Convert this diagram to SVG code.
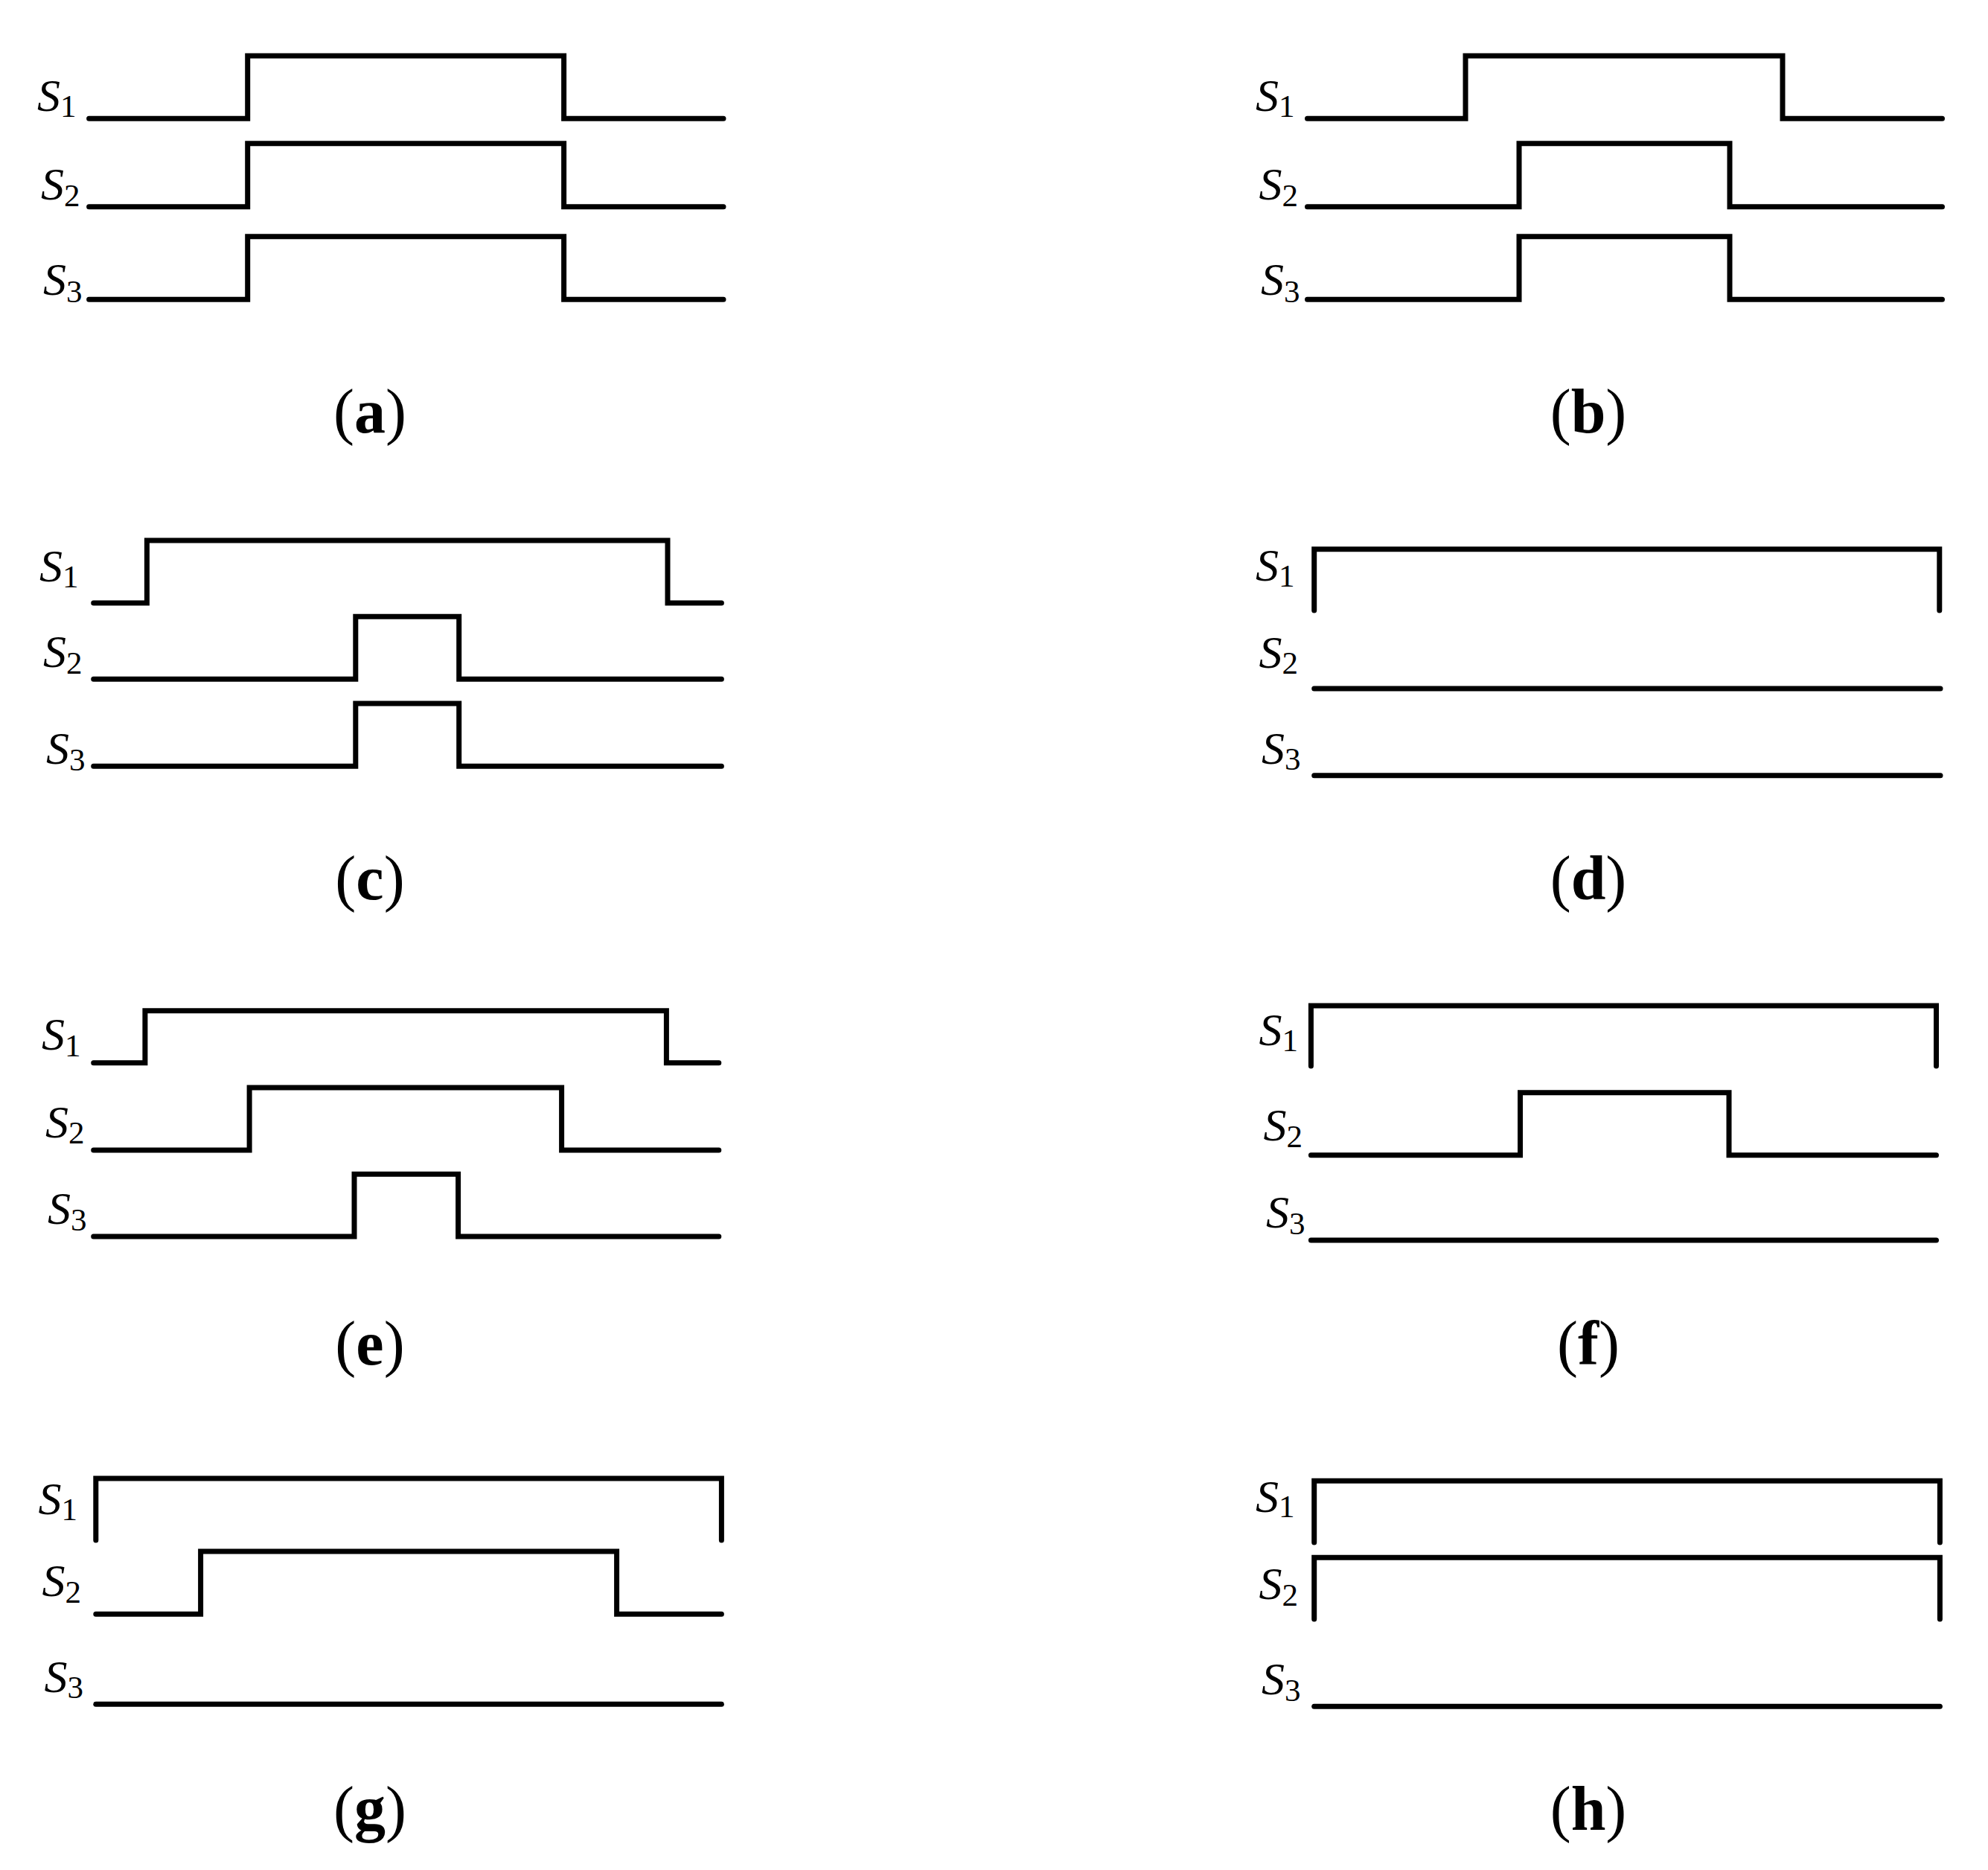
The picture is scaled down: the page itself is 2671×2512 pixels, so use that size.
<svg xmlns="http://www.w3.org/2000/svg" width="2671" height="2512" viewBox="0 0 2671 2512">
<style>
.w{fill:none;stroke:#000;stroke-width:7;stroke-linecap:round;stroke-linejoin:miter}
.lab{font-family:"Liberation Serif","Times New Roman",serif;font-size:62px;font-style:italic;fill:#000}
.sub{font-style:normal;font-size:43px}
.cap{font-family:"Liberation Serif","Times New Roman",serif;font-size:84px;fill:#000;text-anchor:middle}
.b{font-weight:bold}
</style>
<rect width="2671" height="2512" fill="#fff"/>
<g id="panel-a">
<path class="w" d="M119.6,159.3 H332.7 V75 H757.6 V159.3 H972"/>
<path class="w" d="M119.6,277.7 H332.7 V192.7 H757.6 V277.7 H972"/>
<path class="w" d="M119.6,402.3 H332.7 V317.7 H757.6 V402.3 H972"/>
<text class="lab" x="50" y="149">S<tspan class="sub" dy="8">1</tspan></text>
<text class="lab" x="55" y="268">S<tspan class="sub" dy="9">2</tspan></text>
<text class="lab" x="58" y="396">S<tspan class="sub" dy="10">3</tspan></text>
<text class="cap" x="497" y="581">(<tspan class="b">a</tspan>)</text>
</g>
<g id="panel-b">
<path class="w" d="M1756.5,159.3 H1969 V75 H2395 V159.3 H2609.5"/>
<path class="w" d="M1756.5,277.7 H2041 V192.7 H2324 V277.7 H2609.5"/>
<path class="w" d="M1756.5,402.3 H2041 V317.7 H2324 V402.3 H2609.5"/>
<text class="lab" x="1687" y="149">S<tspan class="sub" dy="8">1</tspan></text>
<text class="lab" x="1691.5" y="268">S<tspan class="sub" dy="9">2</tspan></text>
<text class="lab" x="1694" y="396">S<tspan class="sub" dy="10">3</tspan></text>
<text class="cap" x="2134" y="581">(<tspan class="b">b</tspan>)</text>
</g>
<g id="panel-c">
<path class="w" d="M125.7,810 H197.4 V726 H897 V810 H969.4"/>
<path class="w" d="M125.7,912.3 H477.8 V828.3 H616.7 V912.3 H969.4"/>
<path class="w" d="M125.7,1029.3 H477.8 V945 H616.7 V1029.3 H969.4"/>
<text class="lab" x="53" y="781">S<tspan class="sub" dy="8">1</tspan></text>
<text class="lab" x="58" y="896">S<tspan class="sub" dy="9">2</tspan></text>
<text class="lab" x="62" y="1026">S<tspan class="sub" dy="9">3</tspan></text>
<text class="cap" x="497" y="1208">(<tspan class="b">c</tspan>)</text>
</g>
<g id="panel-d">
<path class="w" d="M1765.7,820 V737.7 H2605.8 V820"/>
<path class="w" d="M1765.7,925 H2607"/>
<path class="w" d="M1765.7,1041.7 H2607"/>
<text class="lab" x="1687" y="780">S<tspan class="sub" dy="8">1</tspan></text>
<text class="lab" x="1691.5" y="897">S<tspan class="sub" dy="8">2</tspan></text>
<text class="lab" x="1695" y="1026">S<tspan class="sub" dy="8">3</tspan></text>
<text class="cap" x="2134" y="1208">(<tspan class="b">d</tspan>)</text>
</g>
<g id="panel-e">
<path class="w" d="M125.7,1427.7 H194.9 V1357.7 H895.4 V1427.7 H965.8"/>
<path class="w" d="M125.7,1545 H335.1 V1461 H754.6 V1545 H965.8"/>
<path class="w" d="M125.7,1661 H476 V1577.3 H615.6 V1661 H965.8"/>
<text class="lab" x="56" y="1410">S<tspan class="sub" dy="9">1</tspan></text>
<text class="lab" x="61" y="1528">S<tspan class="sub" dy="8">2</tspan></text>
<text class="lab" x="64" y="1644">S<tspan class="sub" dy="9">3</tspan></text>
<text class="cap" x="497" y="1833">(<tspan class="b">e</tspan>)</text>
</g>
<g id="panel-f">
<path class="w" d="M1761.4,1432 V1351 H2601.5 V1432"/>
<path class="w" d="M1761.4,1551.7 H2042.5 V1467.7 H2323 V1551.7 H2601.5"/>
<path class="w" d="M1761.4,1666 H2601.5"/>
<text class="lab" x="1691.5" y="1404">S<tspan class="sub" dy="8">1</tspan></text>
<text class="lab" x="1697.6" y="1532">S<tspan class="sub" dy="9">2</tspan></text>
<text class="lab" x="1701" y="1649">S<tspan class="sub" dy="9">3</tspan></text>
<text class="cap" x="2134" y="1833">(<tspan class="b">f</tspan>)</text>
</g>
<g id="panel-g">
<path class="w" d="M128.8,2069 V1986 H969.4 V2069"/>
<path class="w" d="M128.8,2168.3 H269.6 V2084 H828.6 V2168.3 H969.4"/>
<path class="w" d="M128.8,2289.3 H969.4"/>
<text class="lab" x="51.5" y="2034">S<tspan class="sub" dy="8">1</tspan></text>
<text class="lab" x="56.4" y="2144">S<tspan class="sub" dy="9">2</tspan></text>
<text class="lab" x="59.4" y="2273">S<tspan class="sub" dy="8">3</tspan></text>
<text class="cap" x="497" y="2458">(<tspan class="b">g</tspan>)</text>
</g>
<g id="panel-h">
<path class="w" d="M1765.7,2072 V1989.3 H2606.4 V2072"/>
<path class="w" d="M1765.7,2175 V2092.3 H2606.4 V2175"/>
<path class="w" d="M1765.7,2292.3 H2606.4"/>
<text class="lab" x="1687" y="2031">S<tspan class="sub" dy="7">1</tspan></text>
<text class="lab" x="1691.5" y="2148">S<tspan class="sub" dy="9">2</tspan></text>
<text class="lab" x="1695" y="2276">S<tspan class="sub" dy="9">3</tspan></text>
<text class="cap" x="2134" y="2458">(<tspan class="b">h</tspan>)</text>
</g>
</svg>
